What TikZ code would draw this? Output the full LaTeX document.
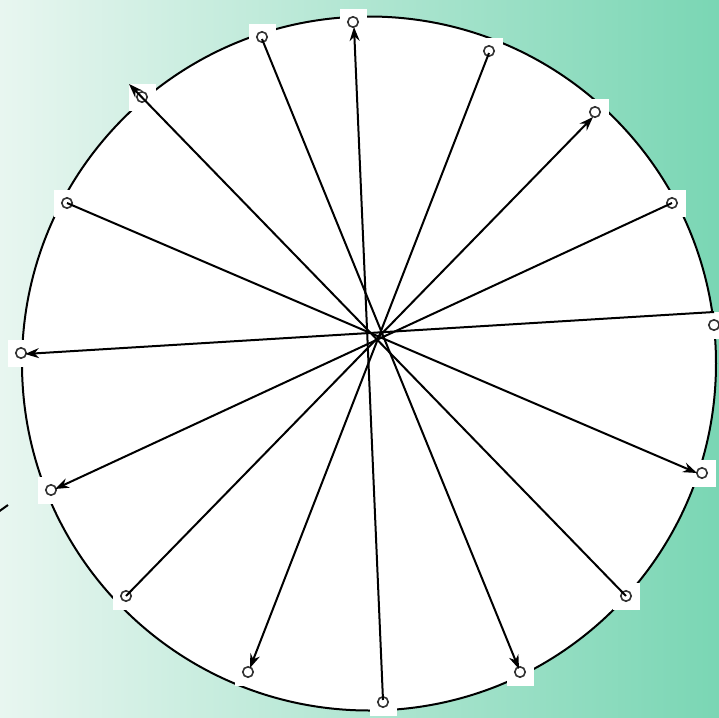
\documentclass[tikz,border=0pt]{standalone}
\usetikzlibrary{arrows.meta}
\definecolor{bgL}{RGB}{232,246,240}
\definecolor{bgR}{RGB}{122,214,180}
\begin{document}
\begin{tikzpicture}[x=0.5pt,y=-0.5pt,
  marker/.style={fill=white, draw=none, minimum size=13.5pt, inner sep=0pt,
    path picture={\draw[line width=0.8pt, black!80] (path picture bounding box.center) circle[radius=2.6pt];}},
  ray/.style={line width=1pt, -{Stealth[length=7pt,width=5pt]}},
  plain/.style={line width=1pt}]
\fill[left color=bgL,right color=bgR] (0,0) rectangle (719,718);
\useasboundingbox (0,0) rectangle (719,718);
\node[draw, fill=white, line width=1pt, circle, minimum size=347pt, inner sep=0pt] (disc) at (369,363.5) {};
% markers
\node[marker] (m1) at (353,22) {};
\node[marker] (m2) at (262,37) {};
\node[marker] (m3) at (489,51) {};
\node[marker] (m4) at (142,97) {};
\node[marker] (m5) at (595,112) {};
\node[marker] (m6) at (67,203) {};
\node[marker] (m7) at (672,203) {};
\node[marker] (m8) at (714,325) {};
\node[marker] (m9) at (21,353) {};
\node[marker] (m10) at (702,473) {};
\node[marker] (m11) at (51,490) {};
\node[marker] (m12) at (626,596) {};
\node[marker] (m13) at (126,596) {};
\node[marker] (m14) at (248,672) {};
\node[marker] (m15) at (520,672) {};
\node[marker] (m16) at (383,702) {};
% line end points
\coordinate (a1) at (383,700);  \coordinate (a2) at (354,27);
\coordinate (b1) at (262,39);   \coordinate (b2) at (519,669);
\coordinate (c1) at (489,53);   \coordinate (c2) at (250,668);
\coordinate (d1) at (626,596);  \coordinate (d2) at (129,84);
\coordinate (e1) at (126,596);  \coordinate (e2) at (593,117);
\coordinate (f1) at (67,203);   \coordinate (f2) at (697,473);
\coordinate (g1) at (672,203);  \coordinate (g2) at (55,489);
\coordinate (h1) at (714,312);  \coordinate (h2) at (25,354);
\coordinate (s1) at (-6,515);   \coordinate (s2) at (8,505);
% rays
\draw[ray] (a1) -- (a2);
\draw[ray] (b1) -- (b2);
\draw[ray] (c1) -- (c2);
\draw[ray] (d1) -- (d2);
\draw[ray] (e1) -- (e2);
\draw[ray] (f1) -- (f2);
\draw[ray] (g1) -- (g2);
\draw[ray] (h1) -- (h2);
\draw[plain] (s1) -- (s2);
\end{tikzpicture}
\end{document}
